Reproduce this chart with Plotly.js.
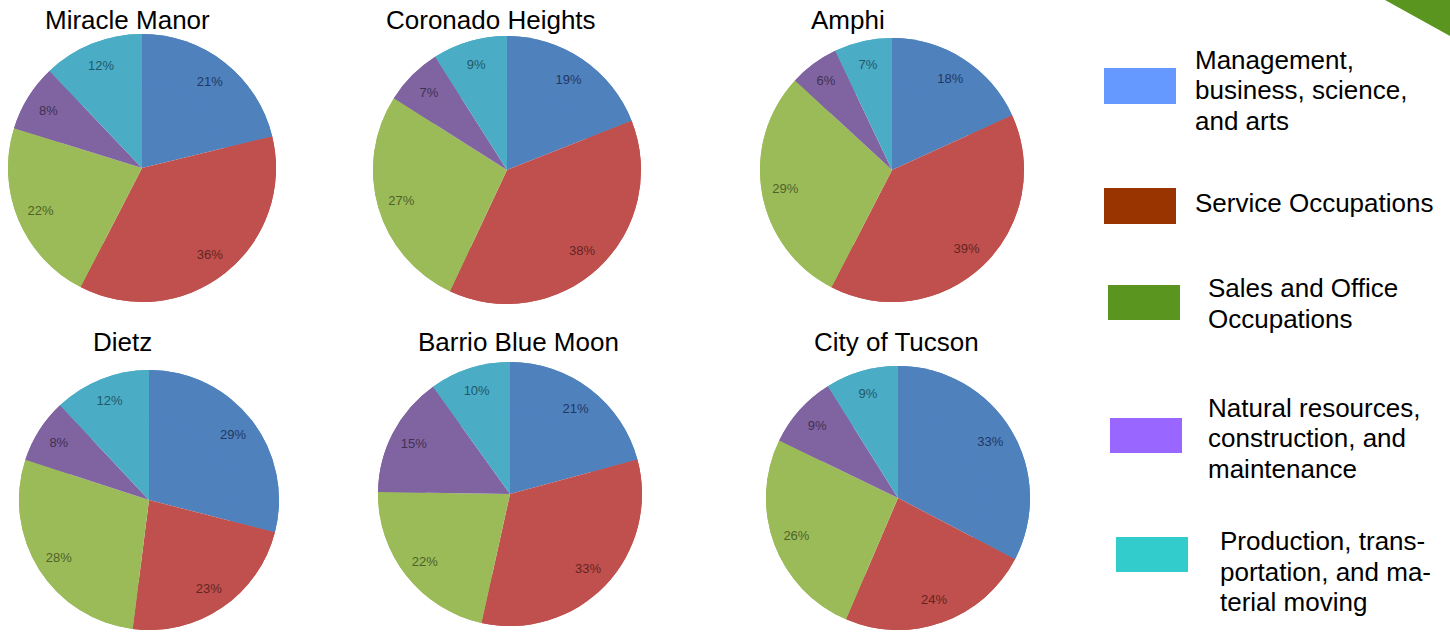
<!DOCTYPE html>
<html>
<head>
<meta charset="utf-8">
<script src="https://cdn.plot.ly/plotly-3.0.1.min.js"></script>
<style>html,body{margin:0;padding:0;background:#fff;}#chart{width:1450px;height:633px;}</style>
</head>
<body>
<div id="chart"></div>
<script>
// ---- data ----
const categories = [
  "Management, business, science, and arts",
  "Service Occupations",
  "Sales and Office Occupations",
  "Natural resources, construction, and maintenance",
  "Production, transportation, and material moving"
];
const areas = ["Miracle Manor", "Coronado Heights", "Amphi", "Dietz", "Barrio Blue Moon", "City of Tucson"];
const miracleManor   = [21, 36, 22, 8, 12];
const coronadoHeights = [19, 38, 27, 7, 9];
const amphi          = [18, 39, 29, 6, 7];
const dietz          = [29, 23, 28, 8, 12];
const barrioBlueMoon = [21, 33, 22, 15, 10];
const cityOfTucson   = [33, 24, 26, 9, 9];
const legendLines = [
  ["Management,", "business, science,", "and arts"],
  ["Service Occupations"],
  ["Sales and Office", "Occupations"],
  ["Natural resources,", "construction, and", "maintenance"],
  ["Production, trans-", "portation, and ma-", "terial moving"]
];

// ---- style ----
const W = 1450, H = 633;
const FONT = "Liberation Sans, Arial, sans-serif";
const sliceColors = ["#4F81BD", "#C0504D", "#9BBB59", "#8064A2", "#4BACC6"];
const labelColors = ["#1F3864", "#632523", "#4F6228", "#3F3151", "#215968"];
const legendColors = ["#6699FF", "#993300", "#5A951F", "#9966FF", "#33CCCC"];
const seriesList = [miracleManor, coronadoHeights, amphi, dietz, barrioBlueMoon, cityOfTucson];
const pieGeom = [
  {cx: 142, cy: 168, r: 134},
  {cx: 507, cy: 170, r: 134},
  {cx: 892, cy: 170, r: 132},
  {cx: 149, cy: 500, r: 130},
  {cx: 510, cy: 494, r: 132},
  {cx: 898, cy: 498, r: 132}
];
const titlePos = [
  {x: 128, y: 20}, {x: 491, y: 20}, {x: 848, y: 20},
  {x: 122, y: 342}, {x: 518, y: 342}, {x: 897, y: 342}
];

const px = x => x / W;
const py = y => 1 - y / H;

const data = [];
seriesList.forEach((vals, i) => {
  const g = pieGeom[i];
  const domain = {x: [px(g.cx - g.r), px(g.cx + g.r)], y: [py(g.cy + g.r), py(g.cy - g.r)]};
  // full pie (no text)
  data.push({
    type: "pie", values: vals, labels: categories, sort: false,
    direction: "clockwise", rotation: 0,
    marker: {colors: sliceColors, line: {width: 0}},
    textinfo: "none", hoverinfo: "label+value", showlegend: false, domain: domain
  });
  // outer ring carrying the labels near the rim
  data.push({
    type: "pie", values: vals, labels: categories, sort: false,
    direction: "clockwise", rotation: 0, hole: 0.64,
    marker: {colors: sliceColors, line: {width: 0}},
    texttemplate: "%{value}%", textposition: "inside",
    insidetextorientation: "horizontal",
    insidetextfont: {family: FONT, size: 13, color: labelColors},
    hoverinfo: "label+value", showlegend: false, domain: domain
  });
});

const annotations = [];
areas.forEach((name, i) => {
  annotations.push({
    text: name, xref: "paper", yref: "paper",
    x: px(titlePos[i].x), y: py(titlePos[i].y),
    xanchor: "center", yanchor: "middle", showarrow: false,
    font: {family: FONT, size: 26, color: "#000"}
  });
});

const legendSwatch = [
  {x0: 1104, y0: 68, x1: 1176, y1: 104},
  {x0: 1104, y0: 188, x1: 1176, y1: 224},
  {x0: 1108, y0: 285, x1: 1180, y1: 320},
  {x0: 1110, y0: 418, x1: 1182, y1: 453},
  {x0: 1116, y0: 537, x1: 1188, y1: 572}
];
const legendText = [
  {x: 1193, y: 60}, {x: 1193, y: 203}, {x: 1206, y: 288}, {x: 1206, y: 408}, {x: 1218, y: 541}
];
const lineGap = 30.5;

const shapes = [];
legendSwatch.forEach((s, i) => {
  shapes.push({type: "rect", xref: "paper", yref: "paper",
    x0: px(s.x0), x1: px(s.x1), y0: py(s.y1), y1: py(s.y0),
    fillcolor: legendColors[i], line: {width: 0}});
  legendLines[i].forEach((ln, k) => {
    annotations.push({
      text: ln, xref: "paper", yref: "paper",
      x: px(legendText[i].x), y: py(legendText[i].y + k * lineGap),
      xanchor: "left", yanchor: "middle", showarrow: false,
      font: {family: FONT, size: 26, color: "#000"}
    });
  });
});
// decorative green corner triangle
shapes.push({type: "path", xref: "paper", yref: "paper",
  path: `M ${px(1385)} ${py(0)} L ${px(1450)} ${py(0)} L ${px(1450)} ${py(36)} Z`,
  fillcolor: "#5A951F", line: {width: 0}});

const layout = {
  width: W, height: H,
  margin: {l: 0, r: 0, t: 0, b: 0},
  paper_bgcolor: "#fff", plot_bgcolor: "#fff",
  showlegend: false,
  annotations: annotations,
  shapes: shapes
};

Plotly.newPlot("chart", data, layout, {displayModeBar: false, staticPlot: true});
</script>
</body>
</html>
